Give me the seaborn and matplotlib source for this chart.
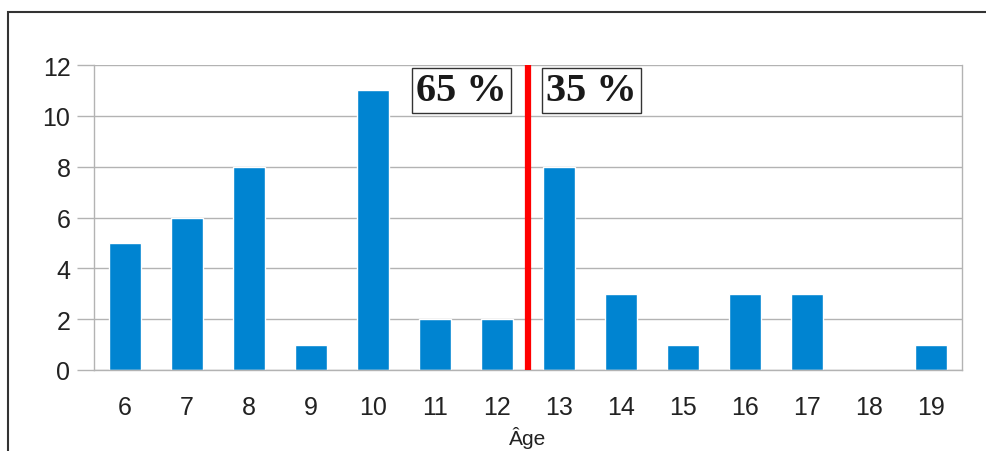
import matplotlib
matplotlib.use('Agg')
from matplotlib import pyplot as plt
from matplotlib.patches import Rectangle
import seaborn as sns
import pandas as pd
import numpy as np

ages = [6, 7, 8, 9, 10, 11, 12, 13, 14, 15, 16, 17, 18, 19]
counts = [5, 6, 8, 1, 11, 2, 2, 8, 3, 1, 3, 3, 0, 1]
left_label = '65 %'
right_label = '35 %'

df = pd.DataFrame({'Âge': [str(a) for a in ages], 'n': counts})

sns.set_style('white')
plt.rcParams['font.family'] = ['Liberation Sans', 'DejaVu Sans']

fig = plt.figure(figsize=(9.87, 4.52), dpi=100)
ax = fig.add_axes([94 / 987, 81 / 452, 868 / 987, 305 / 452])

sns.barplot(data=df, x='Âge', y='n', color='#0084d1', saturation=1, width=0.52, ax=ax)

ax.set_xlim(-0.5, len(ages) - 0.5)
ax.set_ylim(0, 12)
ax.set_yticks(np.arange(0, 13, 2))
ax.yaxis.grid(True, color='#b3b3b3', linewidth=1)
ax.set_axisbelow(True)

for side in ['left', 'right', 'bottom']:
    ax.spines[side].set_visible(True)
    ax.spines[side].set_color('#b3b3b3')
    ax.spines[side].set_linewidth(1)
ax.spines['top'].set_visible(False)

ax.set_xticks(np.arange(-0.5, len(ages), 1), minor=True)
ax.tick_params(axis='x', which='major', length=0, pad=18, labelsize=18, labelcolor='#222222')
ax.tick_params(axis='x', which='minor', length=11, width=1, color='#b3b3b3', direction='out')
ax.tick_params(axis='y', which='major', left=True, length=12, width=1, color='#b3b3b3', pad=5,
               labelsize=18, labelcolor='#222222')
ax.set_ylabel('')
ax.set_xlabel('Âge', fontsize=15, color='#222222', labelpad=5)

# separation 12 / 13
ax.axvline(6.5, color='#ff0000', linewidth=4.5, zorder=5)

box = dict(boxstyle='square,pad=0.1', facecolor='white', edgecolor='#333333', linewidth=1)
ax.text(5.43, 10.98, left_label, ha='center', va='center', fontsize=29, fontweight='bold',
        family='Liberation Serif', color='#1a1a1a', bbox=box, zorder=6)
ax.text(7.52, 10.98, right_label, ha='center', va='center', fontsize=29, fontweight='bold',
        family='Liberation Serif', color='#1a1a1a', bbox=box, zorder=6)

fig.patches.append(Rectangle((8 / 987, -0.1), 1.2, (452 - 13) / 452 + 0.1, transform=fig.transFigure,
                             fill=False, edgecolor='#333333', linewidth=1.5))

fig.savefig('out.png', dpi=100)
